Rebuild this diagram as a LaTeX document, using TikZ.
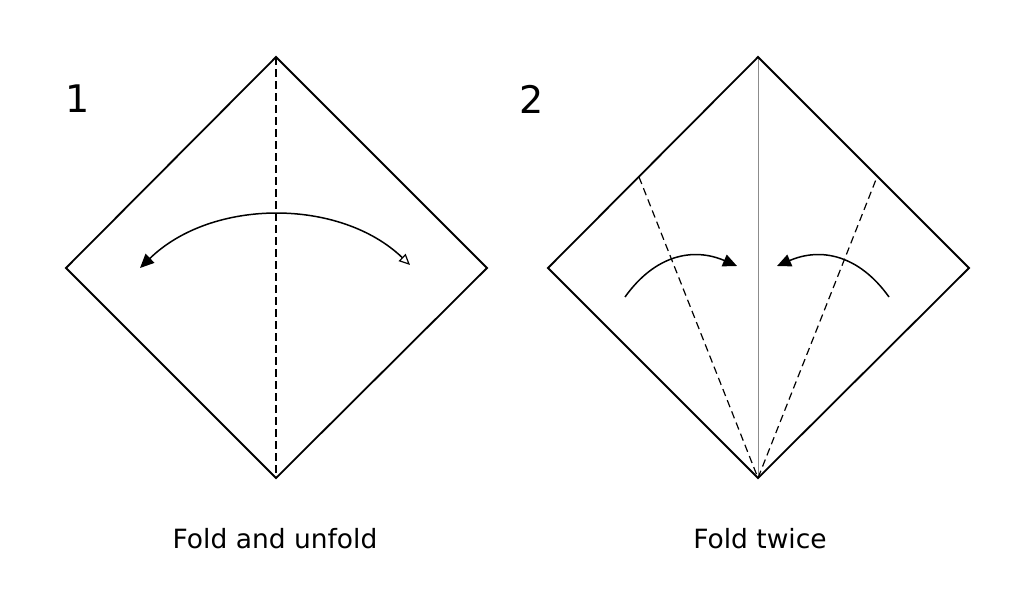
\documentclass[tikz,border=0pt]{standalone}
\usepackage{fontspec}
\setmainfont{DejaVu Sans}
\usetikzlibrary{arrows.meta}
\begin{document}
\begin{tikzpicture}[x=1pt,y=-1pt,
  paper/.style={draw=black,line width=1.8pt,line join=miter},
  foldline/.style={draw=black,line width=1.2pt,dash pattern=on 7.5pt off 4.5pt},
  crease/.style={draw=black!45,line width=1pt},
  movearrow/.style={draw=black,line width=1.5pt},
  steplabel/.style={font=\fontsize{38}{44}\selectfont,inner sep=0pt},
  caption/.style={font=\fontsize{26.5}{30}\selectfont,inner sep=0pt,anchor=base}]
\useasboundingbox (0,0) rectangle (1019,592);
% diagram 1
\coordinate (t1) at (276,57);
\coordinate (r1) at (487,268);
\coordinate (b1) at (276,478);
\coordinate (l1) at (66,268);
\draw[paper] (t1) -- (r1) -- (b1) -- (l1) -- cycle;
\draw[foldline] (t1) -- (b1);
\coordinate (a1s) at (410,265);
\coordinate (a1e) at (140,268);
\draw[movearrow,{Triangle[open,length=11pt,width=10pt,line width=1.2pt]}-{Triangle[length=14pt,width=12.5pt]}] (a1s) .. controls (340,198) and (212,198) .. (a1e);
\node[steplabel] (n1) at (78,99) {1};
\node[caption] (c1) at (275,548) {Fold and unfold};
% diagram 2
\coordinate (t2) at (758,57);
\coordinate (r2) at (969,268);
\coordinate (b2) at (758,478);
\coordinate (l2) at (548,268);
\coordinate (fl) at (639,177);
\coordinate (fr) at (877,177);
\draw[crease] (t2) -- (b2);
\draw[foldline] (fl) -- (b2) -- (fr);
\draw[paper] (t2) -- (r2) -- (b2) -- (l2) -- cycle;
\coordinate (a2s) at (625,297);
\coordinate (a2e) at (737,266);
\coordinate (a3s) at (889,297);
\coordinate (a3e) at (777,266);
\draw[movearrow,-{Triangle[length=14pt,width=12.5pt]}] (a2s) .. controls (655,255) and (693,247) .. (a2e);
\draw[movearrow,-{Triangle[length=14pt,width=12.5pt]}] (a3s) .. controls (859,255) and (821,247) .. (a3e);
\node[steplabel] (n2) at (532,99) {2};
\node[caption] (c2) at (760,548) {Fold twice};
\end{tikzpicture}
\end{document}
